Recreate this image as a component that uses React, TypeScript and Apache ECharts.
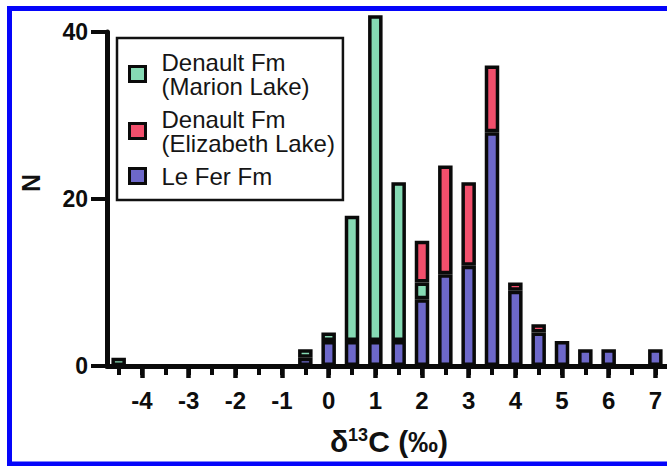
import React, { useEffect, useRef } from "react";
import * as echarts from "echarts";

const bins = ["-4.5","-4","-3.5","-3","-2.5","-2","-1.5","-1","-0.5","0","0.5","1","1.5","2","2.5","3","3.5","4","4.5","5","5.5","6","6.5","7"];
const leFer = [null,null,null,null,null,null,null,null,1,3,3,3,3,8,11,12,28,9,4,3,2,2,null,2];
const marion = [1,null,null,null,null,null,null,null,1,1,15,39,19,2,null,null,null,null,null,null,null,null,null,null];
const elizabeth = [null,null,null,null,null,null,null,null,null,null,null,null,null,5,13,10,8,1,1,null,null,null,null,null];
const yTicks = [0, 20, 40];

const NAME_M = "Denault Fm\n(Marion Lake)";
const NAME_E = "Denault Fm\n(Elizabeth Lake)";
const NAME_L = "Le Fer Fm";
const FONT = "'Liberation Sans', Arial, Helvetica, sans-serif";

export default function App() {
  const ref = useRef<HTMLDivElement>(null);
  useEffect(() => {
    if (!ref.current) return;
    const chart = echarts.init(ref.current, null, { renderer: "svg" });
    const isInt = (v: string) => Number(v) % 1 === 0;
    const barStyle = (color: string) => ({ color, borderColor: "#0a0a0a", borderWidth: 3.5 });
    chart.setOption({
      animation: false,
      backgroundColor: "#ffffff",
      grid: { left: 107, top: 32, width: 563, height: 334, containLabel: false },
      xAxis: [
        {
          type: "category",
          data: bins,
          boundaryGap: true,
          position: "bottom",
          axisLine: { show: true, lineStyle: { color: "#0a0a0a", width: 5 } },
          axisTick: { show: true, alignWithLabel: true, interval: 0, length: 9, lineStyle: { color: "#0a0a0a", width: 4 } },
          axisLabel: {
            show: true,
            interval: (i: number, v: string) => isInt(v),
            margin: 22,
            fontFamily: FONT,
            fontWeight: "bold",
            fontSize: 24,
            color: "#0d0d0d",
          },
          splitLine: { show: false },
        },
        {
          type: "category",
          data: bins,
          boundaryGap: true,
          position: "bottom",
          offset: 0,
          axisLine: { show: false },
          axisTick: { show: true, alignWithLabel: true, interval: (i: number, v: string) => isInt(v), length: 12, lineStyle: { color: "#0a0a0a", width: 4.5 } },
          axisLabel: { show: false },
          splitLine: { show: false },
        },
      ],
      yAxis: {
        type: "value",
        min: yTicks[0],
        max: yTicks[yTicks.length - 1],
        interval: 20,
        axisLine: { show: true, lineStyle: { color: "#0a0a0a", width: 5 } },
        axisTick: { show: true, length: 16, lineStyle: { color: "#0a0a0a", width: 4 } },
        axisLabel: {
          margin: 19,
          fontFamily: FONT,
          fontWeight: "bold",
          fontSize: 23,
          color: "#0d0d0d",
          padding: [7, 0, 0, 0],
        },
        splitLine: { show: false },
      },
      legend: {
        data: [NAME_M, NAME_E, NAME_L],
        orient: "vertical",
        left: 117,
        top: 38,
        padding: [12, 8, 12, 11],
        borderColor: "#111",
        borderWidth: 2.5,
        itemWidth: 16,
        itemHeight: 15,
        itemGap: 9,
        icon: "rect",
        selectedMode: false,
        itemStyle: { borderColor: "#0a0a0a", borderWidth: 3 },
        textStyle: { fontFamily: FONT, fontSize: 24, lineHeight: 24, color: "#151515", padding: [0, 0, 0, 11] },
      },
      series: [
        { name: NAME_L, type: "bar", stack: "n", data: leFer, barWidth: 14.5, clip: false, itemStyle: barStyle("#6d68c9") },
        { name: NAME_M, type: "bar", stack: "n", data: marion, barWidth: 14.5, clip: false, itemStyle: barStyle("#86dab4") },
        { name: NAME_E, type: "bar", stack: "n", data: elizabeth, barWidth: 14.5, clip: false, itemStyle: barStyle("#f24f6c") },
      ],
      graphic: [
        {
          type: "rect",
          z: 100,
          silent: true,
          shape: { x: 9.5, y: 8.5, width: 700, height: 455.5 },
          style: { fill: "none", stroke: "#0505fa", lineWidth: 5 },
        },
        {
          type: "text",
          x: 31,
          y: 183,
          rotation: Math.PI / 2,
          style: {
            text: "N",
            fontFamily: FONT,
            fontWeight: "bold",
            fontSize: 25,
            fill: "#111",
            align: "center",
            verticalAlign: "middle",
          },
        },
        {
          type: "text",
          x: 389,
          y: 441,
          style: {
            text: "δ{sup|13}C (‰)",
            fontFamily: FONT,
            fontWeight: "bold",
            fontSize: 30,
            fill: "#111",
            align: "center",
            verticalAlign: "middle",
            rich: {
              sup: { fontFamily: FONT, fontWeight: "bold", fontSize: 18, fill: "#111", verticalAlign: "top" },
            },
          },
        },
      ],
    });
    return () => chart.dispose();
  }, []);
  return <div ref={ref} style={{ position: "absolute", left: 0, top: 0, width: 667, height: 466 }} />;
}
